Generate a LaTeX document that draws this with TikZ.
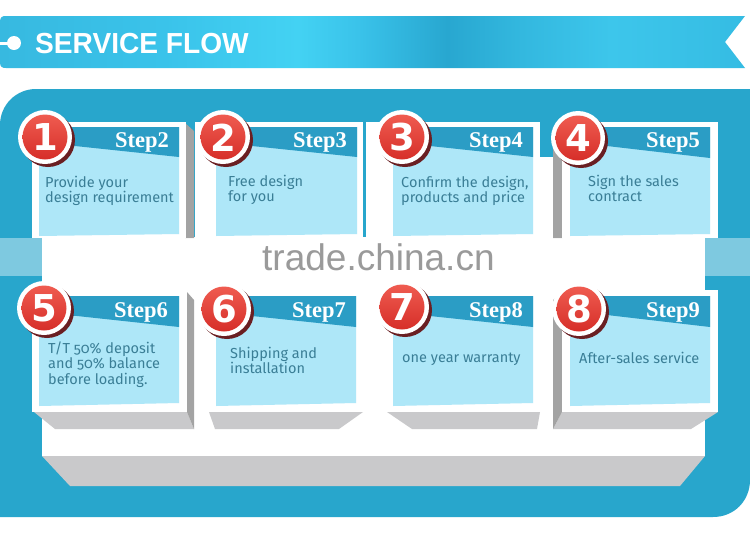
\documentclass[tikz,border=0pt]{standalone}
\usepackage{fontspec}
\setmainfont{Liberation Sans}
\newfontfamily\bodyfont[Numbers=OldStyle]{Fira Sans}
\newfontfamily\stepfont{Liberation Serif}
\newfontfamily\digitfont{DejaVu Sans}
\newfontfamily\titlefont{Liberation Sans}
\definecolor{panel}{HTML}{28A6CC}
\definecolor{headblue}{HTML}{2B9DC5}
\definecolor{innerblue}{HTML}{AEE7F8}
\definecolor{bodycol}{HTML}{3A7E96}
\definecolor{faceA}{HTML}{C9C9CB}
\definecolor{faceB}{HTML}{A3A3A3}
\definecolor{maroon}{HTML}{6A1F22}
\definecolor{redtop}{HTML}{EF5B50}
\definecolor{redbot}{HTML}{D62E29}
\definecolor{bA}{HTML}{37B9E0}
\definecolor{bB}{HTML}{3AC3EA}
\definecolor{bC}{HTML}{43D2F3}
\definecolor{bD}{HTML}{28A7D0}
\definecolor{bE}{HTML}{33B8DF}
\definecolor{bF}{HTML}{3DC6EB}
\definecolor{bG}{HTML}{35BCE3}
\definecolor{wmark}{HTML}{9A9A9A}
\pgfdeclarehorizontalshading{bannershade}{100bp}{color(0bp)=(bA); color(25bp)=(bA); color(36bp)=(bB); color(45bp)=(bC); color(49bp)=(bB); color(55bp)=(bD); color(60bp)=(bE); color(66bp)=(bF); color(75bp)=(bG); color(100bp)=(bG)}
\tikzset{
  frame/.style={fill=white},
  innerbox/.style={fill=innerblue},
  headbox/.style={fill=headblue},
  sideface/.style={fill=faceB},
  botface/.style={fill=faceA},
  steptxt/.style={font=\stepfont\bfseries\fontsize{22.5}{22.5}\selectfont, text=white, inner sep=0pt, anchor=base east},
  bodytxt/.style={font=\bodyfont\fontsize{14.5}{15.5}\selectfont, text=bodycol, inner sep=0pt, anchor=base west, align=left},
  numtxt/.style={font=\digitfont\bfseries\fontsize{37}{37}\selectfont, text=white, inner sep=0pt},
}
\newcommand{\numdisc}[4]{%
  \fill[maroon] (#2+3,#3+3) circle (27pt);
  \fill[white] (#2,#3) circle (27pt);
  \shade[top color=redtop, bottom color=redbot] (#2,#3) circle (22.5pt);
  \node[numtxt] (#1) at (#2,#3+0.5) {#4};
}
\begin{document}
\begin{tikzpicture}[x=1pt,y=-1pt]
\useasboundingbox (0,0) rectangle (750,539);
\fill[white] (0,0) rectangle (750,539);
% banner
\shade[shading=bannershade] (0,22) .. controls (0,17) and (2,16) .. (6,16) -- (745,16) -- (725,42) -- (745,68) -- (6,68) .. controls (2,68) and (0,67) .. (0,62) -- cycle;
\fill[white] (0,41.5) rectangle (10,44.5);
\fill[white] (14,43) circle (7pt);
\node[font=\titlefont\bfseries\fontsize{29}{29}\selectfont, text=white, inner sep=0pt, anchor=base west, xscale=0.97] (title) at (35,53) {SERVICE FLOW};
% main panel
\fill[panel] (0,517) -- (0,125) .. controls (0,105) and (16,89) .. (36,89) -- (750,89) -- (750,480) .. controls (750,500) and (735,517) .. (713,517) -- cycle;
% white platform
\fill[white] (42,237) rectangle (705,456);
\fill[faceA] (42,456) -- (705,456) -- (680,486) -- (70,486) -- cycle;
% ---------- row 1 ----------
% card 1
\fill[sideface] (185,123) -- (194,131) -- (194,238) -- (185,238) -- cycle;
\fill[frame] (32,122) rectangle (186,238);
\fill[innerbox] (39,127) -- (179,127) -- (179,234) -- (39,236) -- cycle;
\fill[headbox] (45,127) -- (179,127) -- (179,157) -- (75,146) -- (45,144) -- cycle;
% card 2
\fill[frame] (195,122) rectangle (363,238);
\fill[innerbox] (216,127) -- (357,127) -- (357,234) -- (216,236) -- cycle;
\fill[headbox] (223,127) -- (357,127) -- (357,157) -- (252,146) -- (223,144) -- cycle;
% card 3
\fill[frame] (366,122) rectangle (540,238);
\fill[frame] (540,157) rectangle (553,238);
\fill[innerbox] (393,127) -- (533,127) -- (533,234) -- (393,236) -- cycle;
\fill[headbox] (402,127) -- (533,127) -- (533,157) -- (430,146) -- (402,144) -- cycle;
% card 4
\fill[sideface] (553,131) -- (562,123) -- (562,238) -- (553,238) -- cycle;
\fill[frame] (562,122) rectangle (718,238);
\fill[innerbox] (570,127) -- (710,127) -- (710,234) -- (570,236) -- cycle;
\fill[headbox] (578,127) -- (710,127) -- (710,158) -- (607,146) -- (578,144) -- cycle;
% ---------- row 2 ----------
% card 5
\fill[botface] (34,412) -- (187,412) -- (194,429) -- (55,429) -- cycle;
\fill[sideface] (187,292) -- (194,300) -- (194,429) -- (187,412) -- cycle;
\fill[frame] (32,291) rectangle (187,412);
\fill[innerbox] (39,296) -- (179,296) -- (179,403) -- (39,406) -- cycle;
\fill[headbox] (44,296) -- (179,296) -- (179,327) -- (77,316) -- (44,314) -- cycle;
% card 6
\fill[botface] (209,412) -- (363,412) -- (339,429) -- (215,429) -- cycle;
\fill[frame] (195,291) rectangle (363,412);
\fill[innerbox] (216,296) -- (356,296) -- (356,403) -- (216,406) -- cycle;
\fill[headbox] (224,296) -- (356,296) -- (356,327) -- (252,316) -- (224,314) -- cycle;
% card 7
\fill[botface] (387,412) -- (540,412) -- (537,429) -- (412,429) -- cycle;
\fill[frame] (383,291) rectangle (538,412);
\fill[innerbox] (393,296) -- (533,296) -- (533,403) -- (393,406) -- cycle;
\fill[headbox] (402,296) -- (533,296) -- (533,327) -- (430,316) -- (402,314) -- cycle;
% card 8
\fill[botface] (562,412) -- (718,412) -- (691,429) -- (553,429) -- cycle;
\fill[sideface] (553,300) -- (562,291) -- (562,412) -- (553,429) -- cycle;
\fill[frame] (562,290) rectangle (718,412);
\fill[innerbox] (570,296) -- (710,296) -- (710,403) -- (570,406) -- cycle;
\fill[headbox] (579,296) -- (710,296) -- (710,327) -- (607,315) -- (579,314) -- cycle;
% number discs
\numdisc{n1}{45}{137}{1}
\numdisc{n2}{223}{137}{2}
\numdisc{n3}{402}{137}{3}
\numdisc{n4}{578}{138}{4}
\numdisc{n5}{44}{308}{5}
\numdisc{n6}{224}{309}{6}
\numdisc{n7}{402}{307}{7}
\numdisc{n8}{579}{309}{8}
% step labels
\node[steptxt] (s2) at (169,147) {Step2};
\node[steptxt] (s3) at (347,147) {Step3};
\node[steptxt] (s4) at (523,147) {Step4};
\node[steptxt] (s5) at (700,147) {Step5};
\node[steptxt] (s6) at (168,317) {Step6};
\node[steptxt] (s7) at (346,317) {Step7};
\node[steptxt] (s8) at (523,317) {Step8};
\node[steptxt] (s9) at (700,317) {Step9};
% body texts (base anchor = baseline of last line)
\node[bodytxt] (t1) at (45,202.5) {Provide your\\design requirement};
\node[bodytxt] (t2) at (228,201.5) {Free design\\for you};
\node[bodytxt] (t3) at (401,202.5) {Confirm the design,\\products and price};
\node[bodytxt] (t4) at (588,201.5) {Sign the sales\\contract};
\node[bodytxt] (t5) at (48,384) {T/T 50\% deposit\\and 50\% balance\\before loading.};
\node[bodytxt] (t6) at (230,373.5) {Shipping and\\installation};
\node[bodytxt] (t7) at (402,362) {one year warranty};
\node[bodytxt] (t8) at (579,363) {After-sales service};
% watermark band
\fill[white, opacity=0.4] (0,238) rectangle (750,276);
\node[font=\fontsize{37}{37}\selectfont, text=wmark, inner sep=0pt, anchor=base west] (wm) at (262,270) {trade.china.cn};
\end{tikzpicture}
\end{document}
